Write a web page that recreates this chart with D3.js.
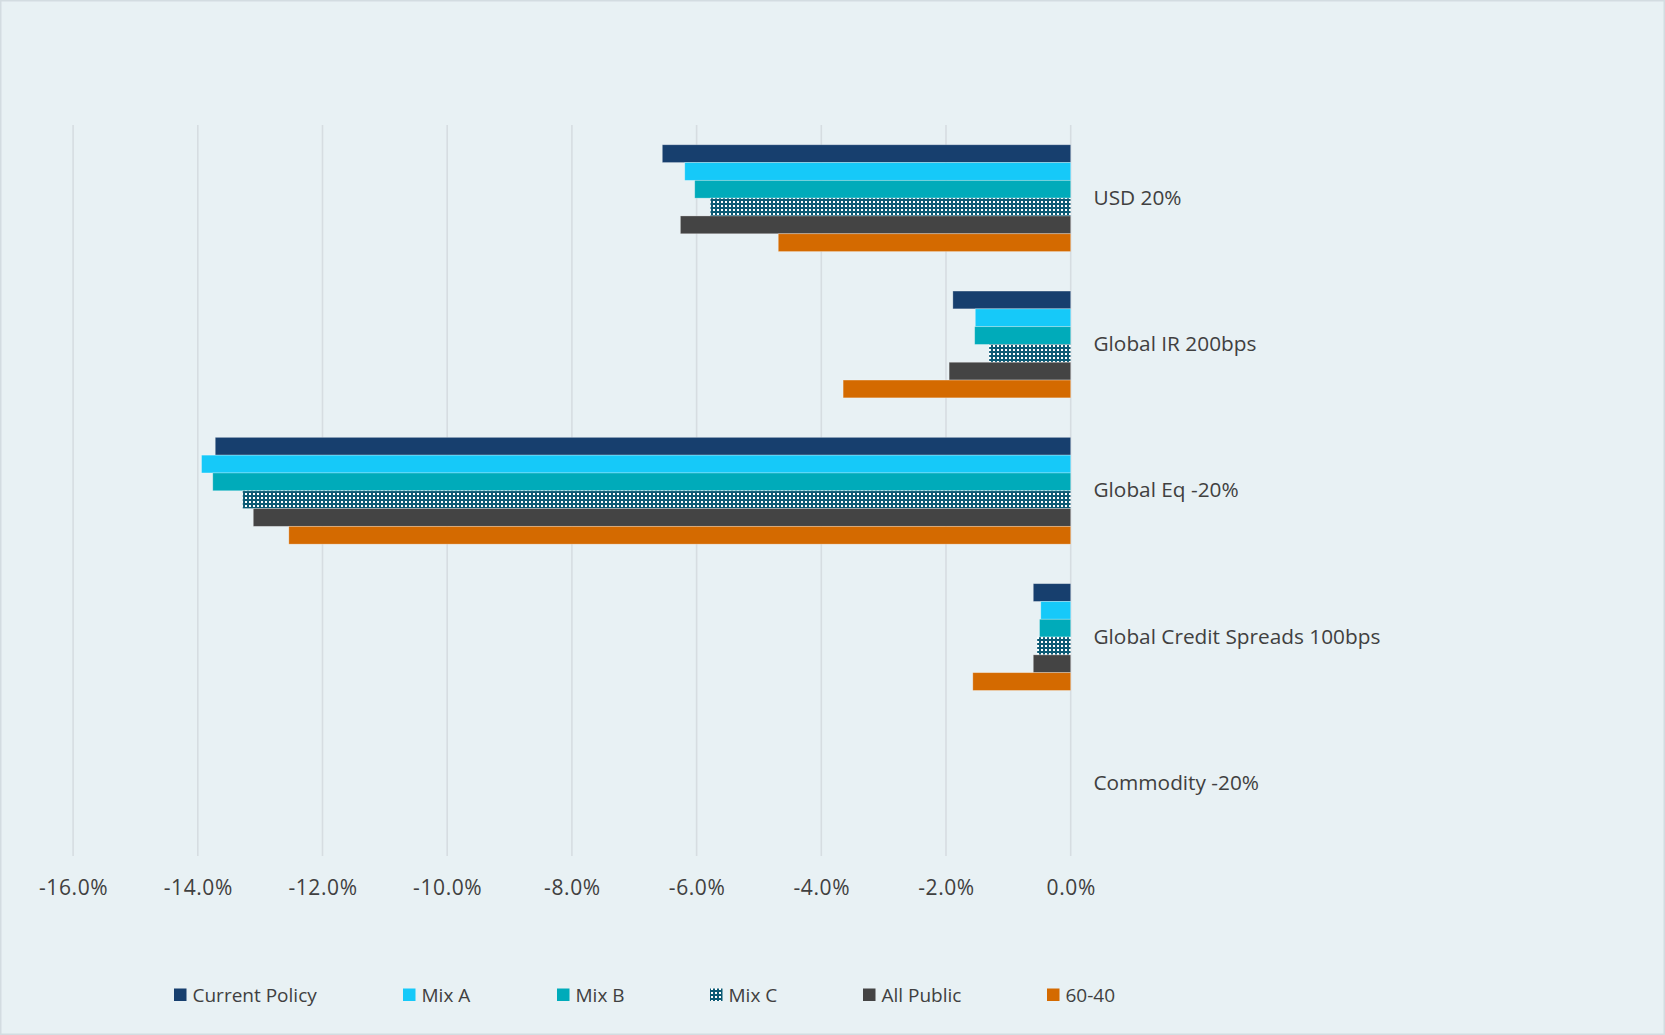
<!DOCTYPE html>
<html>
<head>
<meta charset="utf-8">
<script src="https://cdn.jsdelivr.net/npm/d3@7"></script>
<style>
  html, body { margin: 0; padding: 0; background: #E8F1F4; }
  svg { display: block; }
</style>
</head>
<body>
<svg id="chart" width="1665" height="1035"></svg>
<script>
const categories = ["USD 20%", "Global IR 200bps", "Global Eq -20%", "Global Credit Spreads 100bps", "Commodity -20%"];
const seriesNames = ["Current Policy", "Mix A", "Mix B", "Mix C", "All Public", "60-40"];
const currentPolicy = [-6.55, -1.89, -13.72, -0.60, 0];
const mixA          = [-6.19, -1.53, -13.94, -0.48, 0];
const mixB          = [-6.03, -1.54, -13.76, -0.50, 0];
const mixC          = [-5.78, -1.31, -13.28, -0.54, 0];
const allPublic     = [-6.26, -1.95, -13.11, -0.60, 0];
const sixtyForty    = [-4.69, -3.65, -12.54, -1.57, 0];
const tickValues = [-16, -14, -12, -10, -8, -6, -4, -2, 0];
const tickLabels = ["-16.0%", "-14.0%", "-12.0%", "-10.0%", "-8.0%", "-6.0%", "-4.0%", "-2.0%", "0.0%"];

const seriesValues = [currentPolicy, mixA, mixB, mixC, allPublic, sixtyForty];
const colors = ["#173F6E", "#16C9F9", "#00ABBA", "url(#mixC)", "#444444", "#D46A00"];
const legendX = [174, 403, 557, 710, 863, 1047];

const svg = d3.select("#chart");
const W = 1665, H = 1035;

// background & border
svg.append("rect").attr("x", 0.75).attr("y", 0.75).attr("width", W - 1.5).attr("height", H - 1.5)
  .attr("fill", "#E8F1F4").attr("stroke", "#D3DCE1").attr("stroke-width", 1.5);

// pattern for Mix C
const defs = svg.append("defs");
const pat = defs.append("pattern").attr("id", "mixC").attr("patternUnits", "userSpaceOnUse")
  .attr("width", 4).attr("height", 4);
pat.append("rect").attr("width", 4).attr("height", 4).attr("fill", "#0B5A74");
pat.append("rect").attr("x", 1).attr("y", 1).attr("width", 2).attr("height", 2).attr("fill", "#FFFFFF");

const x = d3.scaleLinear().domain([-16, 0]).range([73.1, 1070.7]);
const y = d3.scaleBand().domain(categories).range([125, 856.5]).paddingInner(0.27).paddingOuter(0.135);
const ySub = d3.scaleBand().domain(seriesNames).range([0, y.bandwidth()]);

// gridlines
svg.append("g").selectAll("line").data(tickValues).join("line")
  .attr("x1", d => x(d)).attr("x2", d => x(d))
  .attr("y1", 125).attr("y2", 856)
  .attr("stroke", "#D6DDE1").attr("stroke-width", 1.6);

// bars
const groups = svg.append("g").selectAll("g").data(seriesNames).join("g");
groups.each(function(name, si) {
  d3.select(this).selectAll("rect").data(categories).join("rect")
    .attr("x", (c, ci) => x(Math.min(0, seriesValues[si][ci])))
    .attr("width", (c, ci) => Math.abs(x(seriesValues[si][ci]) - x(0)))
    .attr("y", c => y(c) + ySub(name))
    .attr("height", ySub.bandwidth())
    .attr("fill", colors[si])
    .attr("stroke", (c, ci) => seriesValues[si][ci] === 0 ? "none" : "rgba(255,255,255,0.35)")
    .attr("stroke-width", 0.8);
});

// x axis labels
const xAxis = d3.axisBottom(x).tickValues(tickValues).tickSize(0)
  .tickFormat((d, i) => tickLabels[i]);
const gx = svg.append("g").attr("transform", "translate(0,877)").call(xAxis);
gx.select(".domain").remove();
gx.selectAll("text").attr("font-family", "'Open Sans', sans-serif").attr("font-size", 21)
  .attr("letter-spacing", 0.6)
  .attr("fill", "#404040").attr("dy", "0.71em");

// category labels
const yAxis = d3.axisRight(y).tickSize(0).tickPadding(0);
const gy = svg.append("g").attr("transform", "translate(1093.5,0)").call(yAxis);
gy.select(".domain").remove();
gy.selectAll("text").attr("font-family", "'Open Sans', sans-serif").attr("font-size", 20.8)
  .attr("fill", "#404040").attr("x", 0);

// legend
const lg = svg.append("g").selectAll("g").data(seriesNames).join("g")
  .attr("transform", (d, i) => `translate(${legendX[i]},995)`);
lg.append("rect").attr("x", 0).attr("y", -6.5).attr("width", 12.5).attr("height", 12.5)
  .attr("fill", (d, i) => colors[i]);
lg.append("text").attr("x", 18.5).attr("y", 0).attr("dy", "0.35em")
  .attr("font-family", "'Open Sans', sans-serif").attr("font-size", 19)
  .attr("fill", "#404040").text(d => d);
</script>
</body>
</html>
